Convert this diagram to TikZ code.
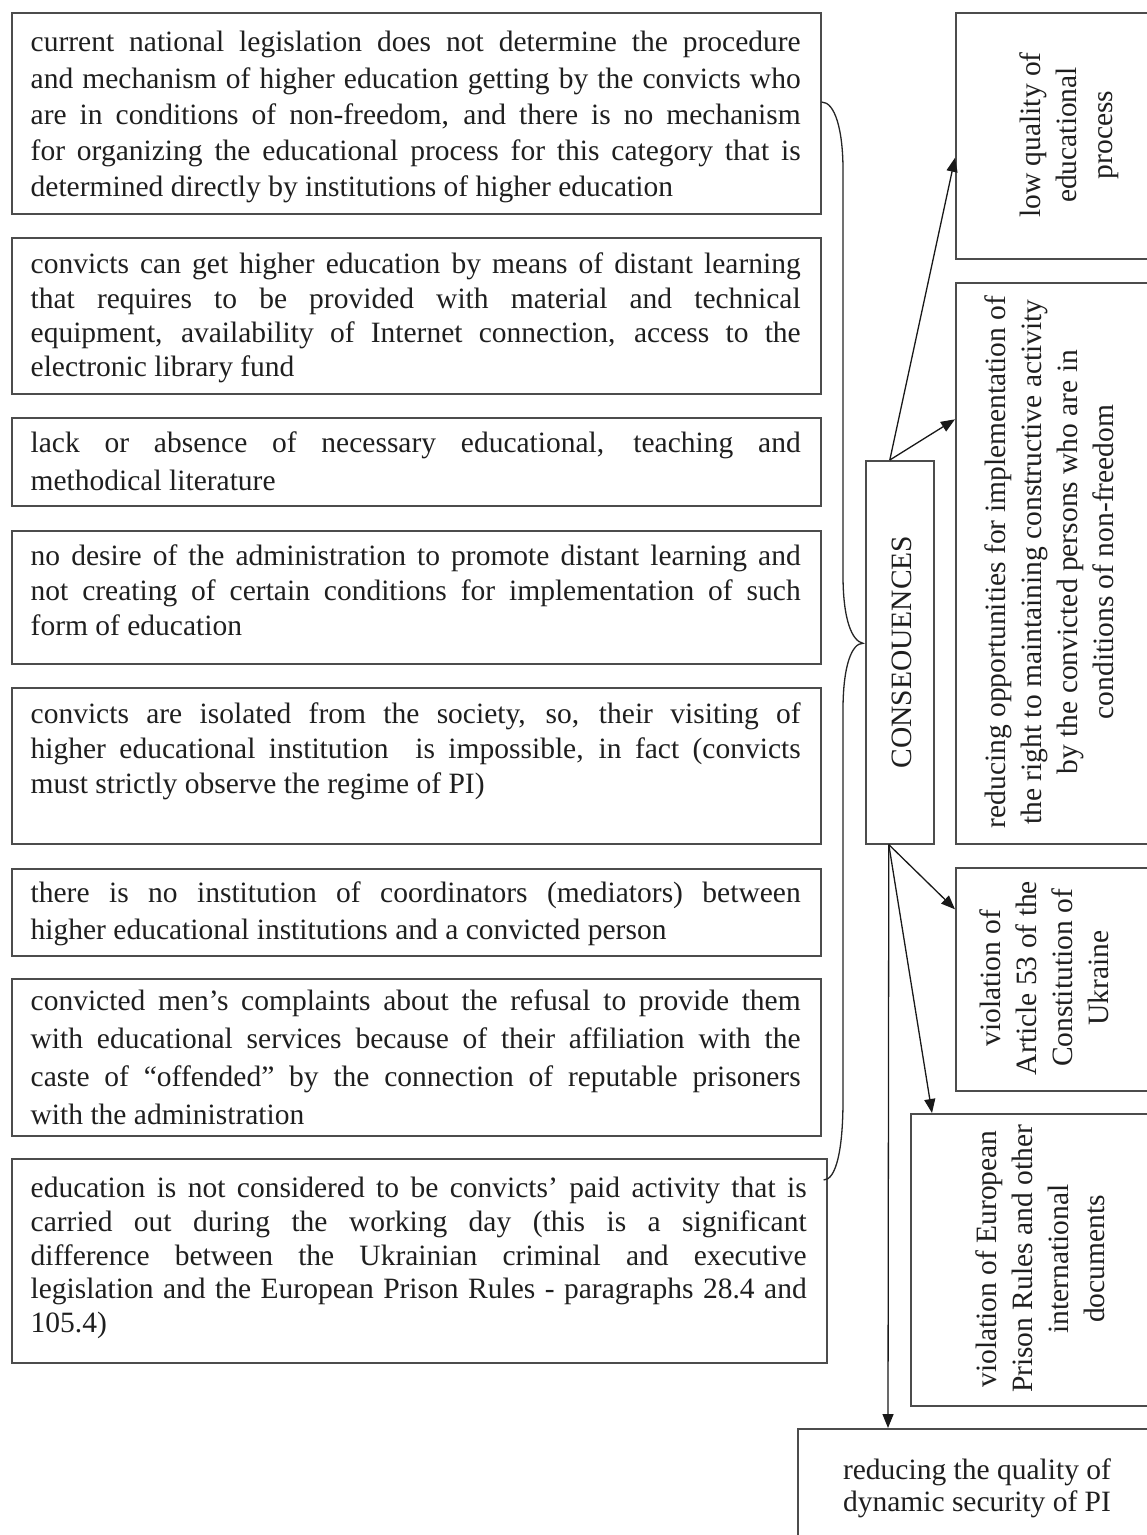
\documentclass[tikz,border=0pt]{standalone}
\usepackage{fontspec}
\setmainfont{Liberation Serif}
\usetikzlibrary{arrows.meta,calc}
\tikzset{
  lbox/.style={draw=black!70, line width=1.6pt, anchor=north west, inner sep=0pt},
  ltext/.style={anchor=north west, inner sep=0pt, align=justify, text=black!88},
  rbox/.style={draw=black!70, line width=1.6pt, anchor=north west, inner sep=0pt},
  rtext/.style={rotate=90, align=center, inner sep=0pt, text=black!88, font=\fontsize{29.5}{36}\selectfont},
  arr/.style={line width=1.3pt, draw=black!90, -{Triangle[length=14pt,width=11pt]}},
  bracestyle/.style={line width=1.3pt, draw=black!85}
}
% #1 name, #2 box width, #3 text width, #4 top, #5 height, #6 first baseline offset, #7 baselineskip, #8 text
\newcommand\lefttextbox[8]{%
  \node[lbox, minimum width=#2, minimum height=#5] (#1) at (11,#4) {};
  \node[ltext, text width=#3, font=\fontsize{29.5}{#7}\selectfont] (#1t) at ($(#1.north west)+(19.5,{#6-0.7*#7})$) {\strut #8};
}
\begin{document}
\begin{tikzpicture}[x=1pt,y=-1pt]
\useasboundingbox (0,0) rectangle (1147,1535);
\clip (0,0) rectangle (1147,1535);
\fill[white] (0,0) rectangle (1147,1535);

\lefttextbox{b1}{809}{770pt}{12}{201}{39.5}{36.3}{current national legislation does not determine the procedure\linebreak and mechanism of higher education getting by the convicts who\linebreak are in conditions of non-freedom, and there is no mechanism\linebreak for organizing the educational process for this category that is\linebreak determined directly by institutions of higher education}
\lefttextbox{b2}{809}{770pt}{237}{156}{36.5}{34.3}{convicts can get higher education by means of distant learning\linebreak that requires to be provided with material and technical\linebreak equipment, availability of Internet connection, access to the\linebreak electronic library fund}
\lefttextbox{b3}{809}{770pt}{417}{88}{35}{38}{lack or absence of necessary educational, teaching and\linebreak methodical literature}
\lefttextbox{b4}{809}{770pt}{530}{133}{35}{35}{no desire of the administration to promote distant learning and\linebreak not creating of certain conditions for implementation of such\linebreak form of education}
\lefttextbox{b5}{809}{770pt}{687}{156}{36}{35}{convicts are isolated from the society, so, their visiting of\linebreak higher educational institution\ \ is impossible, in fact (convicts\linebreak must strictly observe the regime of PI)}
\lefttextbox{b6}{809}{770pt}{868}{87}{34}{37}{there is no institution of coordinators (mediators) between\linebreak higher educational institutions and a convicted person}
\lefttextbox{b7}{809}{770pt}{978}{157}{32}{38}{convicted men’s complaints about the refusal to provide them\linebreak with educational services because of their affiliation with the\linebreak caste of “offended” by the connection of reputable prisoners\linebreak with the administration}
\lefttextbox{b8}{815}{776pt}{1158}{204}{39.5}{33.7}{education is not considered to be convicts’ paid activity that is\linebreak carried out during the working day (this is a significant\linebreak difference between the Ukrainian criminal and executive\linebreak legislation and the European Prison Rules - paragraphs 28.4 and\linebreak 105.4)}

% consequences
\node[rbox, minimum width=68, minimum height=383] (cons) at (865,460) {};
\node[rtext] (const) at (902,652) {CONSEOUENCES};

% right boxes
\node[rbox, minimum width=260, minimum height=246] (A) at (955,12) {};
\node[rtext] (At) at (1069,135) {low quality of\\educational\\process};
\node[rbox, minimum width=260, minimum height=561] (B) at (955,282) {};
\node[rtext] (Bt) at (1049,562) {reducing opportunities for implementation of\\the right to maintaining constructive activity\\by the convicted persons who are in\\conditions of non-freedom};
\node[rbox, minimum width=260, minimum height=223] (C) at (955,867) {};
\node[rtext] (Ct) at (1044,978) {violation of\\Article 53 of the\\Constitution of\\Ukraine};
\node[rbox, minimum width=300, minimum height=292] (D) at (910,1113) {};
\node[rtext] (Dt) at (1040,1259) {violation of European\\Prison Rules and other\\international\\documents};
\node[rbox, minimum width=420, minimum height=140] (E) at (797,1428) {};
\node[align=center, inner sep=0pt, text=black!88, font=\fontsize{29.5}{32}\selectfont] (Et) at (977,1488) {reducing the quality of\\dynamic security of PI};

% arrows
\draw[arr] ($(cons.north)+(-10,0)$) -- ($(A.west)+(0,22)$);
\draw[arr] ($(cons.north)+(-10,0)$) -- ($(B.west)+(0,-144)$);
\draw[arr] ($(cons.south)+(-11,0)$) -- ($(C.west)+(0,-70)$);
\draw[arr] ($(cons.south)+(-11,0)$) -- ($(D.north west)+(22,0)$);
\draw[arr] ($(cons.south)+(-11,0)$) -- ($(E.north west)+(91,0)$);

% brace
\coordinate (bs) at ($(b1.north east)+(0,90)$);
\coordinate (be) at ($(b8.north east)+(-4,22)$);
\coordinate (btip) at ($(cons.west)+(-2,-9)$);
\draw[bracestyle] (bs) .. controls (835,102) and (843,130) .. (843,170) -- (843,575)
  .. controls (843,620) and (852,641) .. (btip)
  .. controls (852,643) and (843,665) .. (843,710) -- (843,1100)
  .. controls (843,1150) and (836,1180) .. (be);
\end{tikzpicture}
\end{document}
